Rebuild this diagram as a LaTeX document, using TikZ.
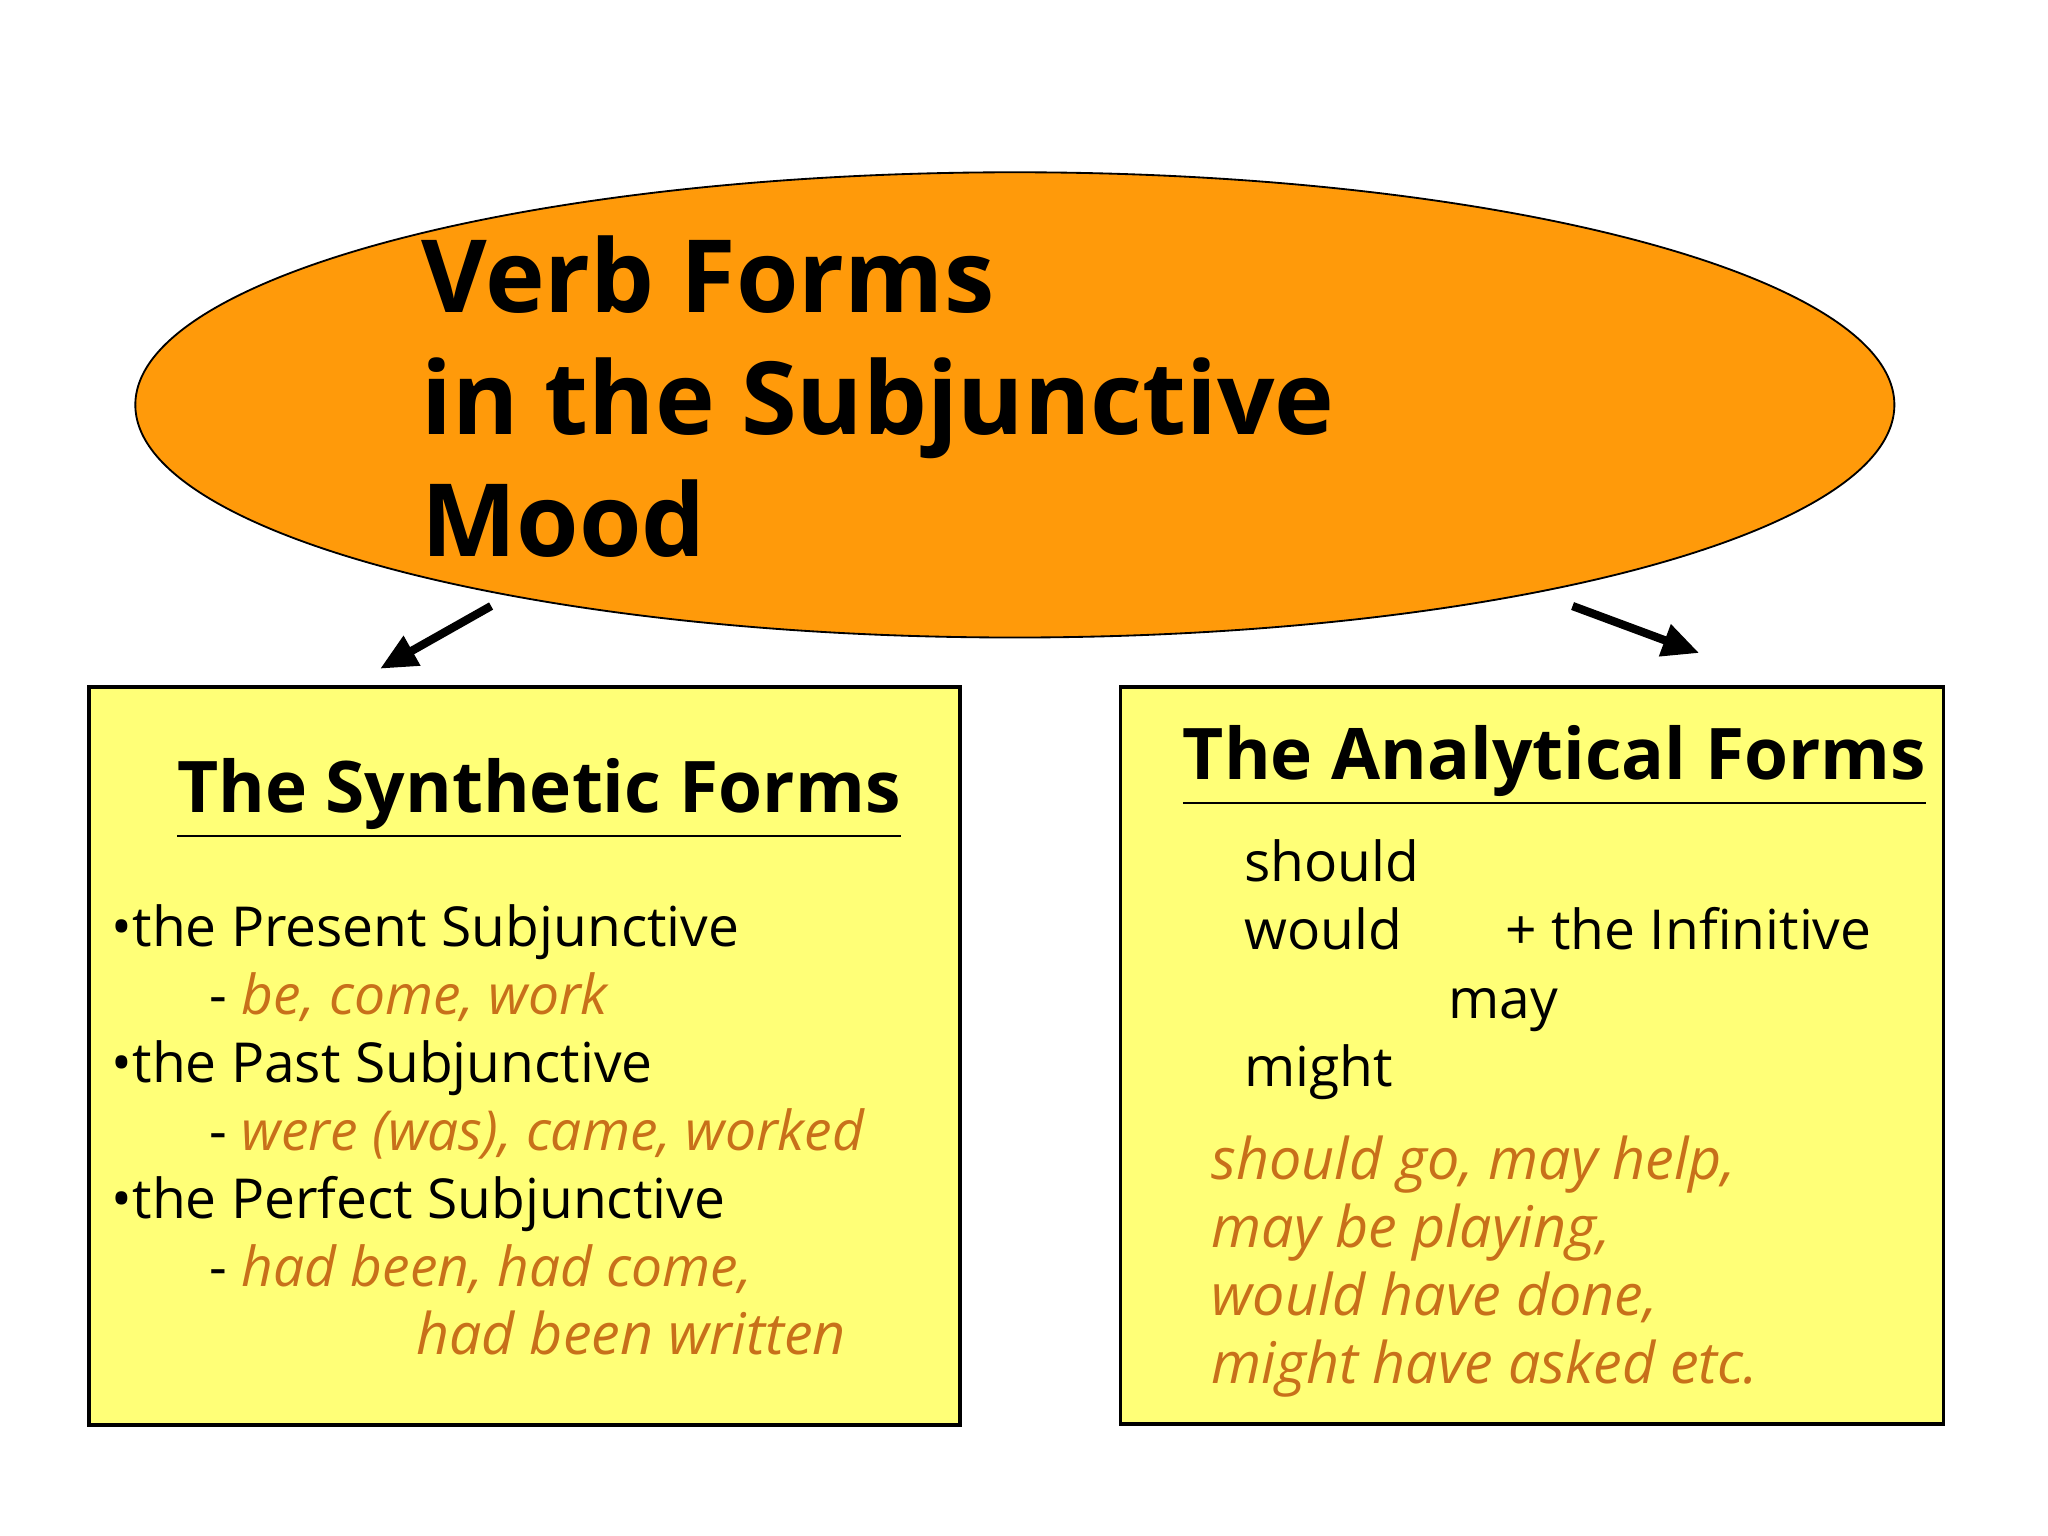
\documentclass[tikz,border=0pt]{standalone}
\usepackage{fontspec}
\setmainfont{Open Sans}
\usetikzlibrary{shapes.geometric,arrows.meta}
\definecolor{orng}{HTML}{FF9A0A}
\definecolor{yel}{HTML}{FFFF77}
\definecolor{brn}{HTML}{C8701A}
\tikzset{
 box/.style={draw=black, fill=yel, line width=0.8pt},
 tx/.style={anchor=base west, inner sep=0pt, font=\fontsize{12}{14}\selectfont},
 ex/.style={tx, text=brn, font=\fontsize{12.5}{14}\selectfont\itshape},
 hd/.style={anchor=base west, inner sep=0pt, font=\fontsize{15.5}{18}\selectfont\bfseries},
 arr/.style={-{Triangle[length=8pt,width=7pt]}, line width=1.8pt}
}
\begin{document}
\begin{tikzpicture}[x=0.01cm,y=-0.01cm]
\useasboundingbox (0,0) rectangle (1568,1176);
\node[ellipse, draw=black, fill=orng, minimum width=1346\pgflinewidth*0+13.46cm, minimum height=3.56cm, inner sep=0pt] (ell) at (777,310) {};
\node[anchor=north west, align=left, inner sep=0pt, font=\fontsize{22}{26.5}\selectfont\bfseries] (title) at (322,180) {Verb Forms\\in the Subjunctive\\Mood};
\draw[box] (68,526) rectangle (735,1091);
\draw[box] (858,526) rectangle (1488,1090);
\coordinate (a1) at (376,464); \coordinate (a2) at (291,512);
\coordinate (b1) at (1204,464); \coordinate (b2) at (1301,500);
\draw[arr] (a1) -- (a2);
\draw[arr] (b1) -- (b2);
% left
\node[hd] (lh) at (135,622) {\underline{The Synthetic Forms}};
\node[tx] (l1) at (85,725) {•the Present Subjunctive};
\node[tx] (l2) at (160,777) {- \textcolor{brn}{\itshape be, come, work}};
\node[tx] (l3) at (85,829) {•the Past Subjunctive};
\node[tx] (l4) at (160,881) {- \textcolor{brn}{\itshape were (was), came, worked}};
\node[tx] (l5) at (85,933) {•the Perfect Subjunctive};
\node[tx] (l6) at (160,985) {- \textcolor{brn}{\itshape had been, had come,}};
\node[ex] (l7) at (318,1037) {had been written};
% right
\node[hd] (rh) at (905,597) {\underline{The Analytical Forms}};
\node[tx] (r1) at (952,675) {should};
\node[tx] (r2) at (952,727) {would};
\node[tx] (r3) at (1152,727) {+ the Infinitive};
\node[tx] (r4) at (1108,780) {may};
\node[tx] (r5) at (952,832) {might};
\node[ex] (e1) at (927,903) {should go, may help,};
\node[ex] (e2) at (927,955) {may be playing,};
\node[ex] (e3) at (927,1007) {would have done,};
\node[ex] (e4) at (927,1059) {might have asked etc.};
\end{tikzpicture}
\end{document}
